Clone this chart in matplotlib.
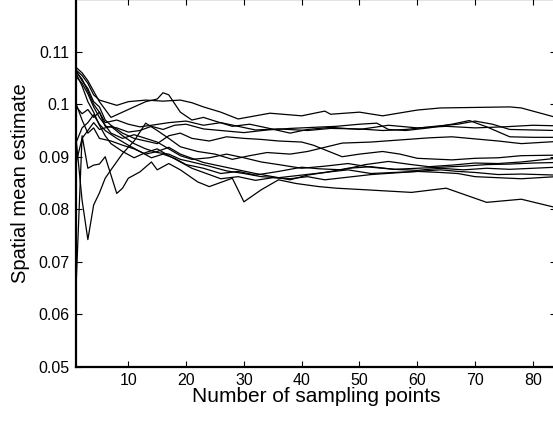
import matplotlib
matplotlib.use("Agg")
import matplotlib.pyplot as plt

plt.rcParams['font.family'] = ['Liberation Sans', 'DejaVu Sans']

# running spatial mean estimates, one list of (n, value) knots per run
run_x = [
    [1, 2, 3, 4, 5, 8, 10, 13, 16, 19, 21, 23, 26, 29, 32, 34.5, 40, 44, 45, 50, 54, 60, 64, 76, 78, 84],
    [1, 2, 3, 4, 5, 7, 9, 11, 13, 15, 16, 17, 19, 21, 23, 25, 28, 31, 34, 38, 41, 45, 50, 55, 60, 65, 70, 75, 80, 84],
    [1, 2, 3, 4, 5, 6, 8, 10, 12, 14, 17, 20, 23, 26, 29, 32, 36, 41, 45, 50, 54, 58, 63, 67, 70, 73, 76, 80, 84],
    [1, 2, 3, 4, 5, 6, 8, 10, 12, 14, 16, 18, 20, 23, 26, 30, 34, 38, 42, 46, 50, 53, 55, 58, 62, 66, 69, 72, 76, 80, 84],
    [1, 2, 3, 4, 5, 6, 7, 9, 11, 13, 15, 17, 19, 22, 25, 28, 31, 34, 38, 41, 44, 47, 52, 57, 62, 66, 70, 74, 78, 84],
    [1, 2, 3, 4, 5, 6, 7, 9, 11, 13, 15, 17, 19, 21, 24, 27, 30, 33, 36, 40, 42, 47, 50, 54, 57, 60, 66, 70, 74, 78, 84],
    [1, 2, 3, 4, 5, 6, 8, 10, 12, 14, 16, 18, 20, 23, 26, 29, 32, 36, 40, 43, 47, 51, 55, 59, 62, 66, 70, 74, 78, 84],
    [1, 2, 3, 4, 5, 7, 9, 11, 13, 15, 17, 19, 21, 24, 27, 30, 33, 36, 40, 44, 48, 52, 56, 60, 64, 68, 72, 76, 80, 84],
    [1, 2, 3, 4, 5, 6, 7, 9, 11, 13, 15, 17, 19, 21, 23, 26, 29, 32, 35, 38, 41, 44, 48, 52, 56, 60, 64, 67, 70, 74, 78, 84],
    [1, 2, 3, 4, 5, 7, 9, 11, 13, 15, 17, 19, 21, 23, 26, 29, 32, 35, 38, 41, 44, 48, 52, 56, 60, 64, 67, 70, 74, 78, 84],
    [1, 2, 3, 4, 5, 6, 7, 9, 11, 13, 15, 17, 19, 21, 24, 27, 30, 33, 36, 40, 44, 48, 52, 56, 60, 64, 68, 72, 76, 80, 84],
    [1, 2, 3, 4, 5, 6, 7, 8, 9, 10, 12, 14, 15, 17, 19, 22, 24, 28, 30, 33, 36, 39, 43, 46, 51, 59, 65, 72, 78, 84],
]
run_y = [
    [.1065, .1055, .104, .1018, .1008, .0998, .1005, .1008, .1006, .1008, .1003, .0995, .0985, .0972, .0978, .0983, .0978, .0987, .0981, .0985, .0978, .0989, .0993, .0995, .0993, .0975],
    [.107, .106, .1045, .1025, .1005, .0975, .0985, .0995, .1005, .101, .1022, .1018, .0985, .097, .0975, .0968, .0958, .0962, .0955, .0945, .0952, .0956, .0952, .0960, .0955, .0958, .0955, .0957, .0960, .0959],
    [.1062, .1048, .1025, .1, .0985, .0965, .097, .0962, .0957, .096, .0965, .0968, .096, .0965, .0958, .0951, .0953, .095, .0954, .0953, .0950, .0952, .0958, .0962, .0968, .0962, .0952, .0951, .0950],
    [.0995, .0982, .099, .0975, .0985, .0958, .0955, .0947, .0950, .0958, .0952, .0960, .0962, .0953, .0950, .0946, .0951, .0954, .0956, .0958, .0962, .0964, .0952, .0950, .0955, .0962, .0969, .0957, .0938, .0937, .0937],
    [.093, .0817, .0742, .0808, .0831, .0859, .0875, .0906, .0930, .0964, .0950, .0935, .0919, .091, .0905, .0895, .0902, .0908, .0905, .091, .0918, .0926, .0928, .0932, .0936, .0938, .0934, .0930, .0925, .0929],
    [.1063, .1045, .103, .1005, .0995, .097, .096, .0945, .0935, .093, .0925, .094, .0945, .0935, .093, .0938, .0935, .0933, .0930, .0928, .0922, .0900, .0905, .0910, .0905, .0897, .0894, .0897, .0898, .0902, .0903],
    [.0928, .0955, .0965, .098, .0962, .095, .0935, .0922, .091, .0898, .0905, .0897, .0885, .0878, .0868, .0872, .0865, .0872, .0880, .0877, .0875, .0885, .0891, .0885, .0881, .0884, .0888, .0887, .0890, .0897],
    [.089, .0935, .095, .0965, .0952, .0958, .094, .0925, .0915, .0908, .0905, .0895, .089, .0882, .0873, .0868, .0862, .0860, .0865, .0870, .0878, .0881, .0876, .0878, .0880, .0882, .0885, .0886, .0888, .0889],
    [.1058, .1035, .1005, .0985, .096, .094, .0925, .091, .0898, .0908, .0915, .0902, .0890, .0878, .0870, .0858, .0862, .0855, .0860, .0858, .0862, .0856, .0861, .0866, .0869, .0872, .0875, .0872, .0870, .0866, .0867, .0865],
    [.1, .097, .0945, .0955, .0935, .093, .0922, .0915, .0905, .091, .0918, .0905, .0897, .0889, .0882, .0875, .0868, .0862, .0856, .0865, .0870, .0875, .0868, .0870, .0872, .0870, .0868, .0862, .0860, .0858, .0862],
    [.1052, .1040, .1020, .0995, .0975, .0960, .0945, .0935, .0942, .0935, .0928, .0915, .0902, .0895, .0898, .0905, .0898, .0890, .0885, .0878, .0882, .0887, .0880, .0876, .0874, .0878, .0875, .0878, .0876, .0878, .0880],
    [.0664, .0940, .0878, .0884, .0886, .0900, .0865, .0830, .0840, .0859, .0871, .0890, .0875, .0887, .0875, .0852, .0843, .0859, .0814, .0837, .0856, .0849, .0843, .0840, .0837, .0832, .0840, .0813, .0819, .0803],
]

x_ticks = [10, 20, 30, 40, 50, 60, 70, 80]
y_ticks = [0.05, 0.06, 0.07, 0.08, 0.09, 0.1, 0.11]
y_labels = ["0.05", "0.06", "0.07", "0.08", "0.09", "0.1", "0.11"]

fig = plt.figure(figsize=(5.53, 4.21), dpi=100)
ax = fig.add_axes([76.3 / 553, 54.5 / 421, (556 - 76.3) / 553, (421.6 - 54.5) / 421])

for xs, ys in zip(run_x, run_y):
    ax.plot(xs, ys, color="black", linewidth=0.9)

ax.set_xlim(1, 84)
ax.set_ylim(0.05, 0.12)
ax.set_xticks(x_ticks)
ax.set_yticks(y_ticks)
ax.set_yticklabels(y_labels)
ax.tick_params(direction="in", top=True, right=True, length=4, width=0.8,
               labelsize=11.5, pad=5)
for side in ["left", "bottom", "top", "right"]:
    ax.spines[side].set_linewidth(1.6)

ax.set_xlabel("Number of sampling points", fontsize=15, labelpad=-1)
ax.set_ylabel("Spatial mean estimate", fontsize=14.5, labelpad=6)

fig.savefig("out.png", dpi=100)
